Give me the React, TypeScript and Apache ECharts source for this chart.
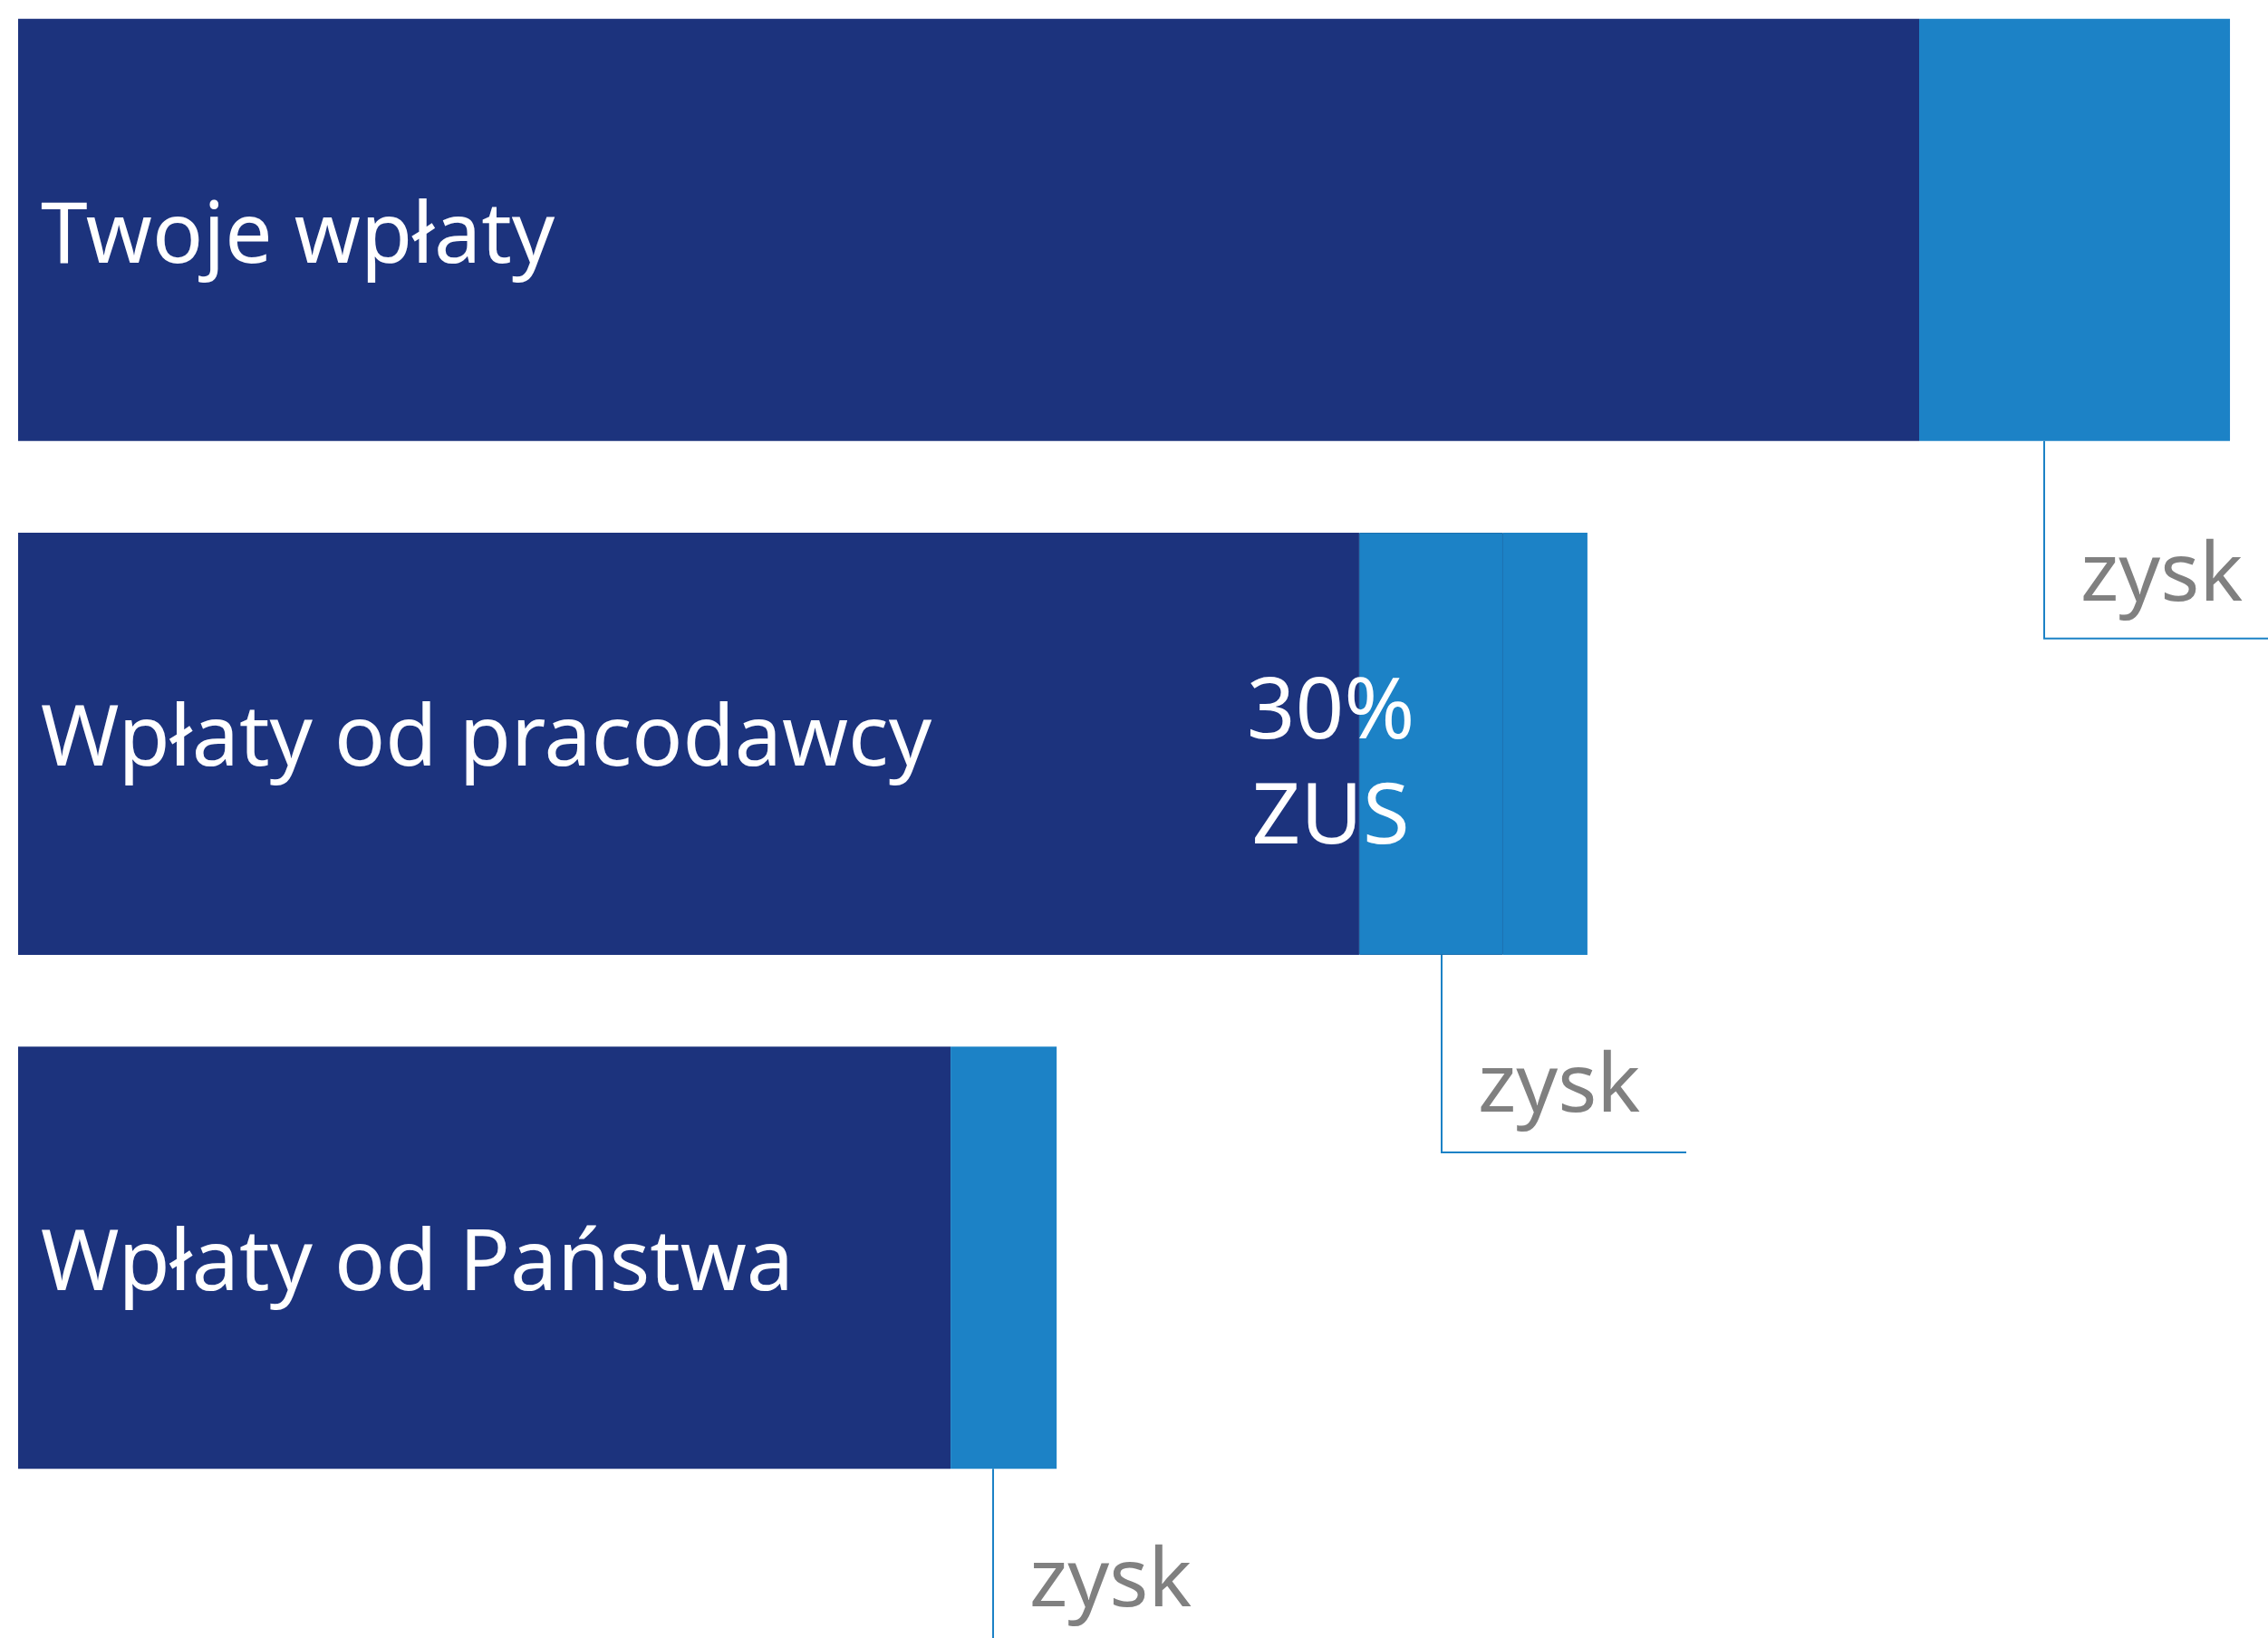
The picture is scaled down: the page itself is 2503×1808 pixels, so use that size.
import React, { useEffect, useRef } from "react";
import * as echarts from "echarts";

// ---- data (Twoje wpłaty = 100) ----
const categories = ["Twoje wpłaty", "Wpłaty od pracodawcy", "Wpłaty od Państwa"];
const contributions = [100, 70.54, 49.05];
const zusShare = [0, 7.58, 0];
const gains = [16.35, 4.43, 5.58];
const gainMarkerAt = [106.58, 74.88, 51.29];
const zusText = "30%\nZUS";
const gainText = "zysk";

const NAVY = "#1C337D";
const LIGHT = "#1C82C6";
const GREY = "#808080";
const FONT = "'Noto Sans', 'DejaVu Sans', sans-serif";

export default function App() {
  const ref = useRef<HTMLDivElement>(null);

  useEffect(() => {
    const chart = echarts.init(ref.current!, null, { renderer: "svg" });
    const barWidth = 466;
    const catLabelOffsetY = [0, -12, 0];
    const gainBaseline = [174, 171, 150];
    const dropLen = 218;
    const armLen = 270;

    chart.setOption({
      animation: false,
      backgroundColor: "#ffffff",
      grid: {
        left: 20,
        top: -30,
        width: 2483,
        height: 1702,
        containLabel: false,
        outerBoundsMode: "none",
      },
      xAxis: { type: "value", min: 0, max: 118.35, show: false },
      yAxis: { type: "category", data: categories, inverse: true, show: false },
      series: [
        {
          name: "Wpłaty",
          type: "bar",
          stack: "total",
          barWidth,
          data: contributions.map((v, i) => ({
            value: v,
            label: { offset: [0, catLabelOffsetY[i]] },
          })),
          itemStyle: { color: NAVY },
          label: {
            show: true,
            position: "insideLeft",
            distance: 25,
            formatter: (p: any) => categories[p.dataIndex],
            color: "#ffffff",
            fontSize: 93,
            fontFamily: FONT,
          },
        },
        {
          name: "30% ZUS",
          type: "bar",
          stack: "total",
          barWidth,
          data: zusShare.map((v) => (v > 0 ? v : "-")),
          itemStyle: { color: LIGHT, borderColor: "#1A70B0", borderWidth: 1 },
          label: {
            show: true,
            position: "inside",
            offset: [-111, 16],
            formatter: () => zusText,
            color: "#ffffff",
            fontSize: 94,
            lineHeight: 116,
            fontFamily: FONT,
            align: "center",
          },
        },
        {
          name: "zysk",
          type: "bar",
          stack: "total",
          barWidth,
          data: gains,
          itemStyle: { color: LIGHT },
        },
      ],
    });

    const graphics: any[] = [];
    categories.forEach((_, i) => {
      const pt = chart.convertToPixel({ gridIndex: 0 }, [gainMarkerAt[i], i]) as number[];
      const x = Math.round(pt[0]);
      const bottom = pt[1] + barWidth / 2;
      graphics.push({
        type: "polyline",
        shape: {
          points: [
            [x, bottom],
            [x, bottom + dropLen],
            [x + armLen, bottom + dropLen],
          ],
        },
        style: { stroke: LIGHT, lineWidth: 2, fill: null },
        silent: true,
      });
      graphics.push({
        type: "text",
        x: x + 40,
        y: bottom + gainBaseline[i] - 33,
        style: {
          text: gainText,
          fill: GREY,
          fontSize: 90,
          fontFamily: FONT,
          verticalAlign: "middle",
          align: "left",
        },
        silent: true,
      });
    });
    chart.setOption({ graphic: graphics });

    return () => chart.dispose();
  }, []);

  return (
    <div
      ref={ref}
      style={{ position: "fixed", left: 0, top: 0, width: 2503, height: 1808, background: "#ffffff" }}
    />
  );
}
